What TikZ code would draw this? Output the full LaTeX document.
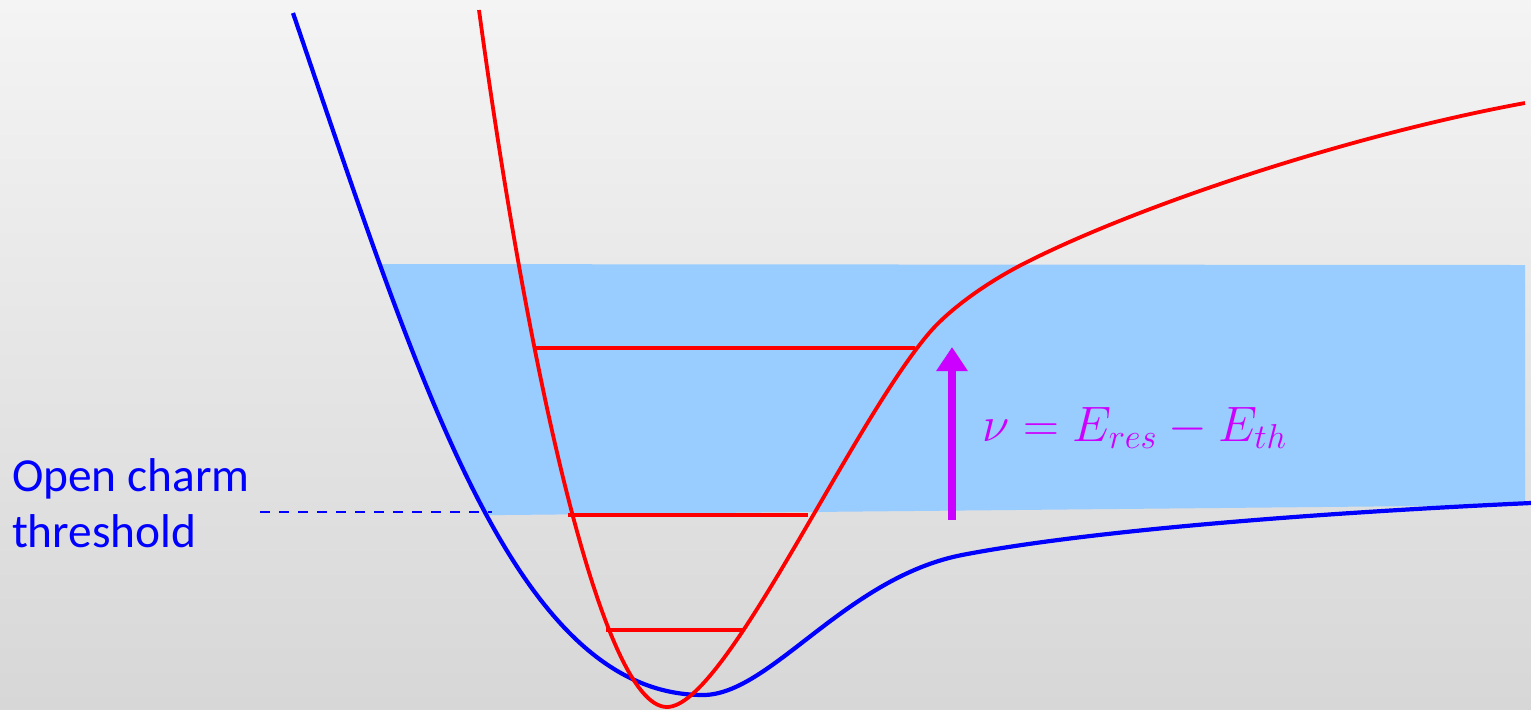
\documentclass[tikz,border=0pt]{standalone}
\usepackage{fontspec}
\setmainfont{Carlito}
\usetikzlibrary{arrows.meta}
\definecolor{bandblue}{HTML}{99CCFF}
\definecolor{mag}{HTML}{CC00FF}
\definecolor{bgtop}{HTML}{F4F4F4}
\definecolor{bgbot}{HTML}{D7D7D7}
\tikzset{
  bluecurve/.style={draw=blue, line width=2.1pt, line join=round},
  redcurve/.style={draw=red, line width=1.9pt, line join=round},
  level/.style={draw=red, line width=1.6pt},
  lbl/.style={inner sep=0pt, outer sep=0pt}
}
\begin{document}
\begin{tikzpicture}[x=0.5pt, y=-0.5pt]
\useasboundingbox (0,0) rectangle (1531,709);
\shade[top color=bgtop, bottom color=bgbot] (0,0) rectangle (1531,709);
% band, clipped to the region above the blue curve
\begin{scope}
\clip (293,13) .. controls (420,385) and (515,695) .. (703,695)
      .. controls (770,695) and (845,578) .. (962,555)
      .. controls (1060,536) and (1250,516) .. (1531,503)
      -- (1531,0) -- (293,0) -- cycle;
\fill[bandblue] (300,264) -- (1525,265) -- (1525,505) -- (300,517) -- cycle;
\end{scope}
% blue potential
\draw[bluecurve] (293,13) .. controls (420,385) and (515,695) .. (703,695)
      .. controls (770,695) and (845,578) .. (962,555)
      .. controls (1060,536) and (1250,516) .. (1531,503);
% red levels
\coordinate (l1a) at (535,348); \coordinate (l1b) at (915,348);
\coordinate (l2a) at (568,515); \coordinate (l2b) at (808,515);
\coordinate (l3a) at (606,630); \coordinate (l3b) at (743,630);
\draw[level] (l1a) -- (l1b);
\draw[level] (l2a) -- (l2b);
\draw[level] (l3a) -- (l3b);
% red potential
\draw[redcurve] (479,10) .. controls (525,350) and (600,707) .. (667,707)
      .. controls (725,707) and (850,425) .. (930,332)
      .. controls (950,309) and (987,282) .. (1027,262)
      .. controls (1140,205) and (1350,135) .. (1525,103);
% threshold dashed line
\coordinate (thL) at (260,512);
\coordinate (thR) at (492,512);
\draw[blue, line width=1pt, dash pattern=on 5pt off 4.5pt] (thL) -- (thR);
\node[lbl, blue, anchor=north west, align=left, font=\fontsize{23.7}{28}\selectfont] (thlabel) at (12,459) {Open charm\\threshold};
% arrow
\coordinate (arB) at (952,520);
\coordinate (arT) at (952,347);
\draw[mag, line width=4pt, -{Triangle[width=15pt,length=12pt]}] (arB) -- (arT);
\node[lbl, mag, anchor=base west, font=\fontsize{23}{28}\selectfont] (nu) at (982,441) {$\nu = E_{res} - E_{th}$};
\end{tikzpicture}
\end{document}
